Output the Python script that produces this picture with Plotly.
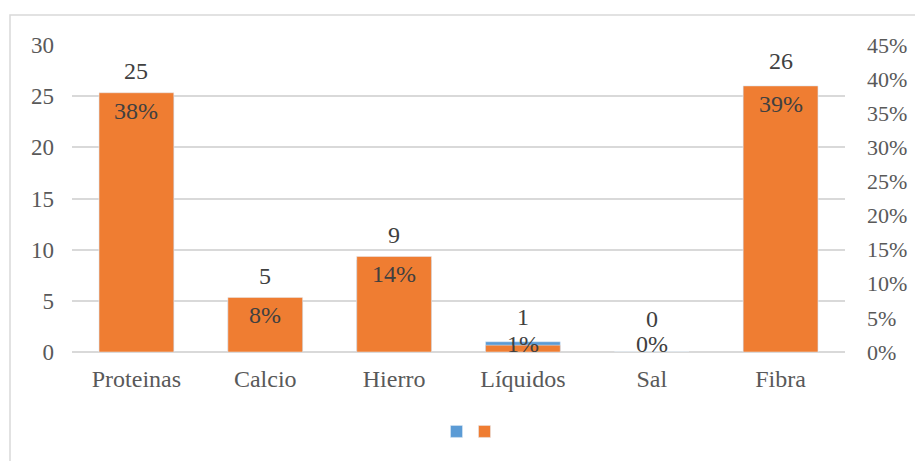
import plotly.graph_objects as go

categories = ["Proteinas", "Calcio", "Hierro", "Líquidos", "Sal", "Fibra"]
counts = [25, 5, 9, 1, 0, 26]
percents = [0.38, 0.08, 0.14, 0.01, 0.0, 0.39]
left_ticks = [0, 5, 10, 15, 20, 25, 30]
right_ticks = [0, 0.05, 0.10, 0.15, 0.20, 0.25, 0.30, 0.35, 0.40, 0.45]

FONT = "Liberation Serif"
TICK_COLOR = "#595959"
LABEL_COLOR = "#404040"
BLUE = "#5B9BD5"
ORANGE = "#EF7D32"
FS = 24

fig = go.Figure()
fig.add_trace(go.Bar(x=categories, y=counts, name="", marker_color=BLUE,
                     width=0.58, yaxis="y", hoverinfo="skip", legend="legend"))
fig.add_trace(go.Bar(x=categories, y=percents, name="", marker_color=ORANGE,
                     width=0.58, yaxis="y2", hoverinfo="skip", legend="legend2"))

annotations = []
for c, n in zip(categories, counts):
    annotations.append(dict(x=c, y=n, xref="x", yref="y", text=str(n), showarrow=False,
                            yshift=33 if n == 0 else 25,
                            font=dict(family=FONT, size=FS, color=LABEL_COLOR)))
for c, p in zip(categories, percents):
    if p >= 0.05:
        annotations.append(dict(x=c, y=p, xref="x", yref="y2", text=f"{p:.0%}", showarrow=False,
                                yshift=-18, font=dict(family=FONT, size=FS, color=LABEL_COLOR)))
    else:
        annotations.append(dict(x=c, y=0, xref="x", yref="y2", text=f"{p:.0%}", showarrow=False,
                                yanchor="bottom", yshift=-7,
                                font=dict(family=FONT, size=FS, color=LABEL_COLOR)))

PW = 773
fig.update_layout(
    width=915, height=461,
    margin=dict(l=72, r=70, t=45, b=109, autoexpand=False),
    paper_bgcolor="white", plot_bgcolor="white",
    barmode="overlay",
    font=dict(family=FONT, size=FS, color=TICK_COLOR),
    xaxis=dict(showgrid=False, showline=False, ticks="", ticklabelstandoff=10, automargin=False,
               tickfont=dict(family=FONT, size=FS, color=TICK_COLOR)),
    yaxis=dict(range=[0, 30], tickvals=left_ticks, showgrid=True, gridcolor="#D9D9D9",
               gridwidth=1.5, zeroline=True, zerolinecolor="#D9D9D9", zerolinewidth=2,
               showline=False, ticks="", ticklabelstandoff=17, automargin=False,
               tickfont=dict(family=FONT, size=23, color=TICK_COLOR)),
    yaxis2=dict(range=[0, 0.45], tickvals=right_ticks, tickformat=".0%", overlaying="y",
                side="right", showgrid=False, zeroline=False, showline=False, ticks="",
                ticklabelstandoff=21, automargin=False,
                tickfont=dict(family=FONT, size=22, color=TICK_COLOR)),
    showlegend=True,
    legend=dict(orientation="h", x=(459 - 72) / PW, xanchor="center", y=-0.26, yanchor="middle",
                itemwidth=30, font=dict(family=FONT, size=14), bgcolor="rgba(0,0,0,0)"),
    legend2=dict(orientation="h", x=(487 - 72) / PW, xanchor="center", y=-0.26, yanchor="middle",
                 itemwidth=30, font=dict(family=FONT, size=14), bgcolor="rgba(0,0,0,0)"),
    annotations=annotations,
    shapes=[dict(type="rect", xref="paper", yref="paper",
                 x0=(10 - 72) / PW, x1=(930 - 72) / PW,
                 y0=(352 - 480) / 307, y1=(352 - 15) / 307,
                 line=dict(color="#D9D9D9", width=1.5), fillcolor="rgba(0,0,0,0)",
                 layer="below")],
)

fig.write_html("out.html")
